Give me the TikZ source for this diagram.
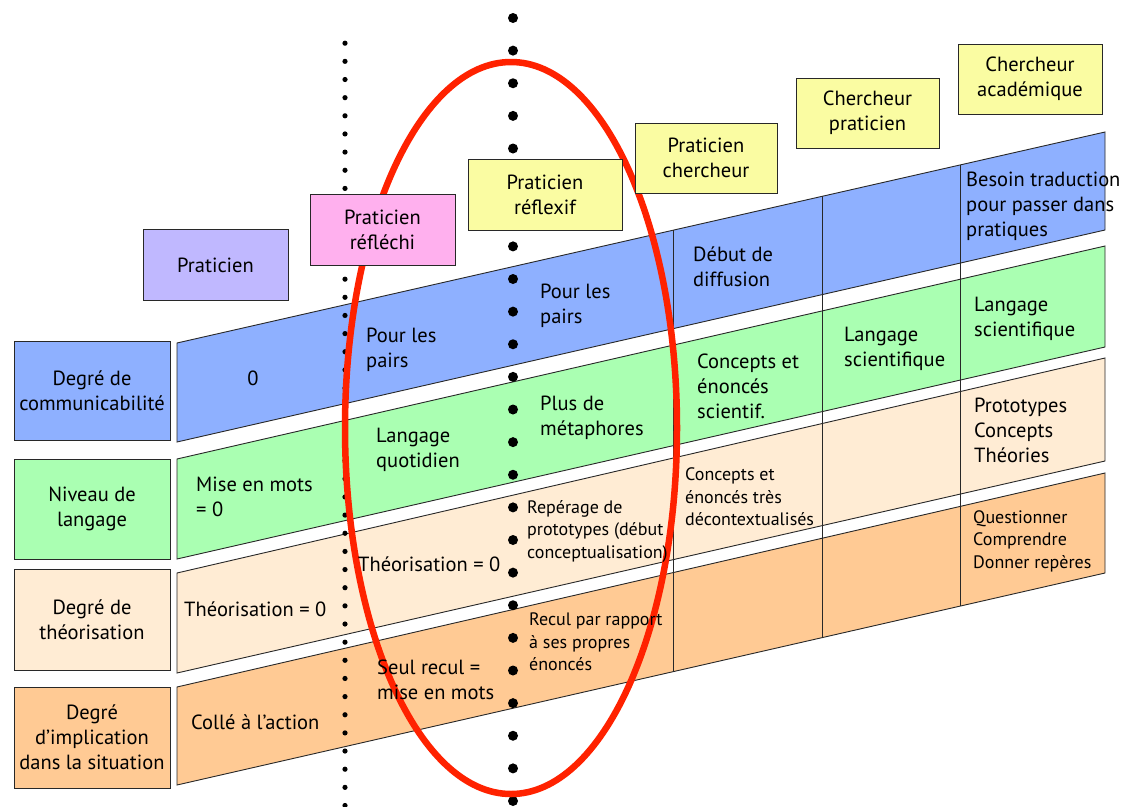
\documentclass[tikz,border=0pt]{standalone}
\usepackage{fontspec}
\setmainfont{PT Sans}
\usetikzlibrary{calc}

\definecolor{bandblue}{RGB}{142,176,255}
\definecolor{bandgreen}{RGB}{170,255,178}
\definecolor{bandpeach}{RGB}{255,236,212}
\definecolor{bandorange}{RGB}{255,202,148}
\definecolor{boxviolet}{RGB}{192,184,255}
\definecolor{boxpink}{RGB}{255,176,238}
\definecolor{boxyellow}{RGB}{250,252,162}
\definecolor{loopred}{RGB}{255,34,0}
\definecolor{edge}{RGB}{40,40,40}

\newcommand\mainsz{\fontsize{20.5}{25}\selectfont}
\newcommand\smallsz{\fontsize{18}{22.5}\selectfont}

\tikzset{
  box/.style={draw=edge, line width=1pt, align=center, inner sep=0pt, font=\mainsz},
  band/.style={draw=edge, line width=0.9pt},
  divider/.style={draw=edge, line width=0.9pt},
  txt/.style={anchor=west, align=left, inner sep=0pt, font=\mainsz},
  stxt/.style={anchor=west, align=left, inner sep=0pt, font=\smallsz},
}

\begin{document}
\begin{tikzpicture}[x=1pt,y=-1pt]
\fill[white] (0,0) rectangle (1124,806);
\useasboundingbox (0,0) rectangle (1124,806);

% slanted bands
\fill[bandblue]   (177,343) -- (1105,132) -- (1105,230) -- (177,442) -- cycle;
\fill[bandgreen]  (177,459) -- (1105,246) -- (1105,347) -- (177,559) -- cycle;
\fill[bandpeach]  (177,573) -- (1105,358) -- (1105,461) -- (177,673) -- cycle;
\fill[bandorange] (177,687) -- (1105,473) -- (1105,573) -- (177,785) -- cycle;
\draw[band] (177,343) -- (1105,132) -- (1105,230) -- (177,442) -- cycle;
\draw[band] (177,459) -- (1105,246) -- (1105,347) -- (177,559) -- cycle;
\draw[band] (177,573) -- (1105,358) -- (1105,461) -- (177,673) -- cycle;
\draw[band] (177,687) -- (1105,473) -- (1105,573) -- (177,785) -- cycle;

% column dividers
\coordinate (d1t) at (673,230.2); \coordinate (d1b) at (673,671.7);
\coordinate (d2t) at (822,196.3); \coordinate (d2b) at (822,637.7);
\coordinate (d3t) at (960,165.0); \coordinate (d3b) at (960,606.1);
\draw[divider] (d1t) -- (d1b);
\draw[divider] (d2t) -- (d2b);
\draw[divider] (d3t) -- (d3b);

% dotted separators
\foreach \i in {0,...,42} \fill[black] (345,43.2+18.15*\i) circle (2.6pt);
\foreach \i in {0,...,24} \fill[black] (513,18+32.625*\i) circle (5pt);

% red loop
\draw[loopred, line width=6.5pt] (511,428) ellipse [x radius=166pt, y radius=366pt];

% row labels
\node[box, fill=bandblue,   minimum width=156pt, minimum height=99pt]  (r1) at (92,390.5) {Degré de\\communicabilité};
\node[box, fill=bandgreen,  minimum width=156pt, minimum height=100pt] (r2) at (92,509) {Niveau de\\langage};
\node[box, fill=bandpeach,  minimum width=156pt, minimum height=101pt] (r3) at (92,619.5) {Degré de\\théorisation};
\node[box, fill=bandorange, minimum width=156pt, minimum height=101pt] (r4) at (92,737.5) {Degré\\d’implication\\dans la situation};

% column headers
\node[box, fill=boxviolet, minimum width=145pt, minimum height=71pt] (c1) at (215.5,265) {Praticien};
\node[box, fill=boxpink,   minimum width=145pt, minimum height=71pt] (c2) at (382.5,229.5) {Praticien\\réfléchi};
\node[box, fill=boxyellow, minimum width=154pt, minimum height=71pt] (c3) at (545,194.5) {Praticien\\réflexif};
\node[box, fill=boxyellow, minimum width=142pt, minimum height=70pt] (c4) at (706,158) {Praticien\\chercheur};
\node[box, fill=boxyellow, minimum width=143pt, minimum height=70pt] (c5) at (867.5,113) {Chercheur\\praticien};
\node[box, fill=boxyellow, minimum width=144pt, minimum height=70pt] (c6) at (1030,79) {Chercheur\\académique};

% communicability row
\node[inner sep=0pt, font=\mainsz] (a1) at (253,378) {0};
\node[txt] (a2) at (366,350) {Pour les\\pairs};
\node[txt] (a3) at (540,305.5) {Pour les\\pairs};
\node[txt] (a4) at (693,267) {Début de\\diffusion};
\node[txt] (a5) at (966,206) {Besoin traduction\\pour passer dans\\pratiques};

% language row
\node[txt] (b1) at (196,497) {Mise en mots\\= 0};
\node[txt] (b2) at (376,450) {Langage\\quotidien};
\node[txt] (b3) at (540,418) {Plus de\\métaphores};
\node[txt] (b4) at (697,386) {Concepts et\\énoncés\\scientif.};
\node[txt] (b5) at (844,349) {Langage\\scientifique};
\node[txt] (b6) at (974,319) {Langage\\scientifique};

% theorisation row
\node[txt] (t1) at (184,609) {Théorisation = 0};
\node[txt] (t2) at (358,564) {Théorisation = 0};
\node[stxt] (t3) at (527,531) {Repérage de\\prototypes (début\\conceptualisation)};
\node[stxt] (t4) at (685,497) {Concepts et\\énoncés très\\décontextualisés};
\node[txt] (t5) at (974,430) {Prototypes\\Concepts\\Théories};

% implication row
\node[txt] (i1) at (191,722) {Collé à l’action};
\node[txt] (i2) at (377,680) {Seul recul =\\mise en mots};
\node[stxt] (i3) at (529,642) {Recul par rapport\\à ses propres\\énoncés};
\node[stxt] (i4) at (973,541) {Questionner\\Comprendre\\Donner repères};
\end{tikzpicture}
\end{document}
